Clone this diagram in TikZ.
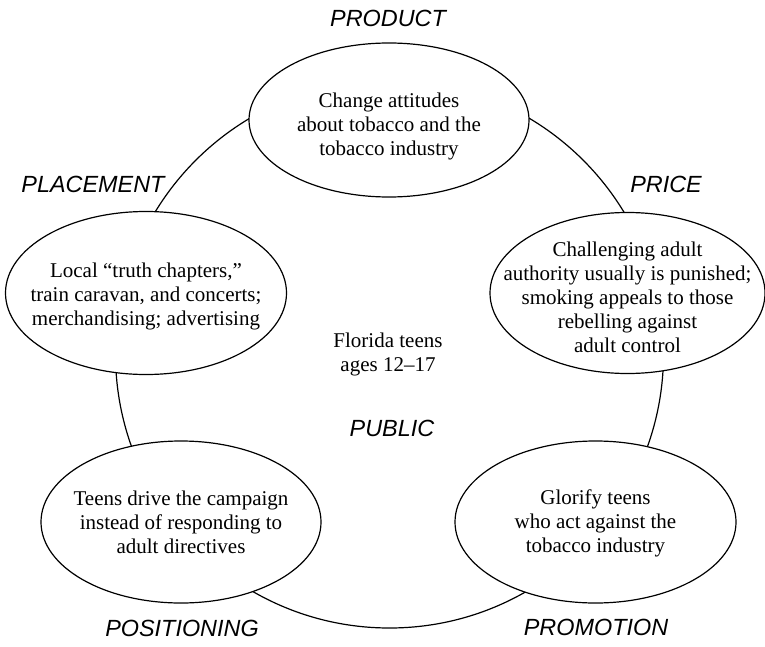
\documentclass[tikz,border=0pt]{standalone}
\usepackage{fontspec}
\setmainfont{Liberation Serif}
\newfontfamily\labelfont{Liberation Sans}
\usetikzlibrary{shapes.geometric}
\tikzset{
  oval/.style={ellipse, draw=black, fill=white, line width=0.6pt, inner sep=0pt},
  blurb/.style={align=center, font=\fontsize{10.5}{12}\selectfont},
  pword/.style={font=\labelfont\itshape\fontsize{11.7}{14}\selectfont}
}
\begin{document}
\begin{tikzpicture}[x=0.5pt,y=-0.5pt]
\useasboundingbox (0,0) rectangle (765,647);
\node[circle, draw=black, line width=0.6pt, minimum size=274pt, inner sep=0pt] (ring) at (389.5,354) {};
\node[oval, minimum width=140pt, minimum height=77pt] (product) at (389,120) {};
\node[oval, minimum width=140.5pt, minimum height=81.5pt] (placement) at (146,293) {};
\node[oval, minimum width=137.5pt, minimum height=80.5pt] (price) at (627.5,293) {};
\node[oval, minimum width=140pt, minimum height=81pt] (positioning) at (181,522) {};
\node[oval, minimum width=140.5pt, minimum height=81pt] (promotion) at (595.5,522) {};
\node[blurb] (producttxt) at (389,126) {Change attitudes\\about tobacco and the\\tobacco industry};
\node[blurb] (placementtxt) at (146,296) {Local ``truth chapters,''\\train caravan, and concerts;\\merchandising; advertising};
\node[blurb] (pricetxt) at (627.5,297) {Challenging adult\\authority usually is punished;\\smoking appeals to those\\rebelling against\\adult control};
\node[blurb] (positioningtxt) at (181,522) {Teens drive the campaign\\instead of responding to\\adult directives};
\node[blurb] (promotiontxt) at (595.5,523) {Glorify teens\\who act against the\\tobacco industry};
\node[blurb] (public) at (388,354) {Florida teens\\ages 12--17};
\node[pword] (productlbl) at (388,18) {PRODUCT};
\node[pword] (pricelbl) at (666,184) {PRICE};
\node[pword] (placementlbl) at (93,184) {PLACEMENT};
\node[pword] (publiclbl) at (392,428) {PUBLIC};
\node[pword] (positioninglbl) at (182,628) {POSITIONING};
\node[pword] (promotionlbl) at (596,627) {PROMOTION};
\end{tikzpicture}
\end{document}
